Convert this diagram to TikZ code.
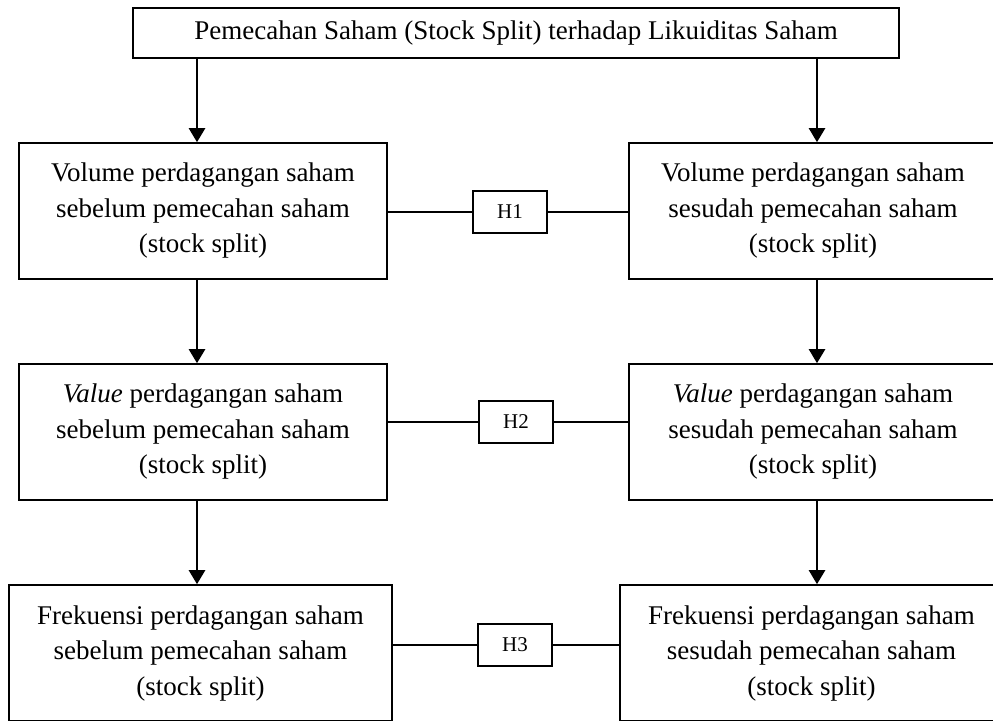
\documentclass[tikz,border=0pt]{standalone}
\usepackage{fontspec}
\setmainfont{Liberation Serif}
\usepackage{tikz}
\usetikzlibrary{arrows.meta,calc,positioning}

\begin{document}
\begin{tikzpicture}[
    x=1pt, y=-1pt,
    box/.style={
      draw=black,
      line width=1.6pt,
      minimum width=368pt,
      minimum height=136pt,
      inner sep=0pt,
      align=center,
      font=\fontsize{27}{35.5}\selectfont
    },
    hyp/.style={
      draw=black,
      line width=1.6pt,
      minimum width=74pt,
      minimum height=42pt,
      inner sep=0pt,
      font=\fontsize{21}{24}\selectfont
    },
    arrow/.style={-{Triangle[length=14pt,width=16pt]},line width=2.4pt},
    link/.style={line width=1.6pt}
  ]
    \useasboundingbox (0,0) rectangle (993,720);
    \node[box,minimum width=766pt,minimum height=50pt] (top) at (516,33) {Pemecahan Saham (Stock Split) terhadap Likuiditas Saham};
    % sebelum
    \node[box] (pre1) at (203,211) {Volume perdagangan saham\\sebelum pemecahan saham\\(stock split)};
    \node[box] (pre2) at (203,432) {\textit{Value} perdagangan saham\\sebelum pemecahan saham\\(stock split)};
    \node[box,minimum width=383pt] (pre3) at (200.5,653) {Frekuensi perdagangan saham\\sebelum pemecahan saham\\(stock split)};
    % sesudah
    \node[box] (post1) at (813,211) {Volume perdagangan saham\\sesudah pemecahan saham\\(stock split)};
    \node[box] (post2) at (813,432) {\textit{Value} perdagangan saham\\sesudah pemecahan saham\\(stock split)};
    \node[box,minimum width=383pt] (post3) at (811.5,653) {Frekuensi perdagangan saham\\sesudah pemecahan saham\\(stock split)};
    % hipotesis
    \node[hyp] (h1) at (510,212) {H1};
    \node[hyp] (h2) at (516,422) {H2};
    \node[hyp] (h3) at (515,645) {H3};
    \draw[arrow] ([xshift=-6pt]pre1.north |- top.south) -- ([xshift=-6pt]pre1.north);
    \draw[arrow] ([xshift=4pt]post1.north |- top.south) -- ([xshift=4pt]post1.north);
    \foreach \a/\b/\s in {pre1/pre2/-6,pre2/pre3/-6,post1/post2/4,post2/post3/4}
      \draw[arrow] ([xshift=\s pt]\a.south) -- ([xshift=\s pt]\a.south |- \b.north);
    \foreach \i in {1,2,3}{
      \draw[link] (h\i.west) -- (h\i.west -| pre\i.east);
      \draw[link] (h\i.east) -- (h\i.east -| post\i.west);
    }
  \end{tikzpicture}
\end{document}
